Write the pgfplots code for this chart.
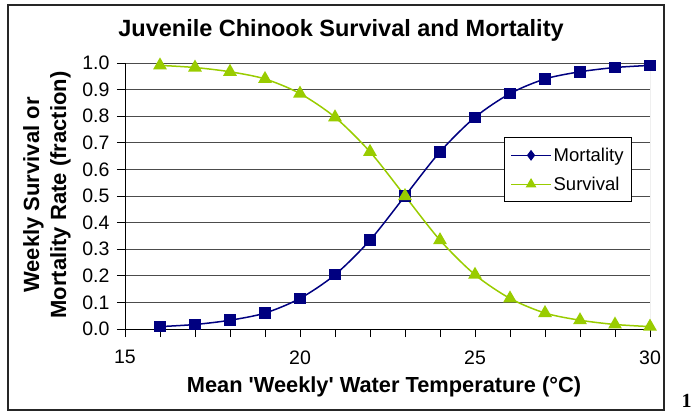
\documentclass[border=0pt]{standalone}
\usepackage{pgfplots}
\pgfplotsset{compat=1.18}
\usepackage{fontspec}
\setmainfont{Liberation Sans}
\newfontfamily\serifb{Liberation Serif}
\definecolor{mort}{RGB}{0,0,128}
\definecolor{surv}{RGB}{153,204,0}
\begin{document}
\begin{tikzpicture}
\path[use as bounding box] (0,0) rectangle (693pt,-415pt);
\draw[line width=1.2pt, black!85] (8pt,-5pt) rectangle (664pt,-410pt);
\begin{axis}[at={(125pt,-329pt)}, anchor=south west, scale only axis,
  width=525pt, height=266pt,
  xmin=15, xmax=30, ymin=0, ymax=1,
  axis x line*=bottom, axis y line*=left,
  axis line style={black, line width=1pt},
  xtick={15,20,25,30}, minor xtick={16,17,18,19,21,22,23,24,26,27,28,29},
  ytick={0,0.1,0.2,0.3,0.4,0.5,0.6,0.7,0.8,0.9,1.0},
  yticklabel style={xshift=-4pt, /pgf/number format/.cd, fixed, fixed zerofill, precision=1},
  xticklabel style={yshift=-10pt},
  /pgf/number format/assume math mode=true,
  tick align=outside, major tick length=8pt, minor tick length=8pt,
  tick style={black, line width=0.8pt},
  ymajorgrids, grid style={black!70, line width=0.7pt},
  tick label style={font=\fontsize{19.5}{19.5}\selectfont},
  legend style={at={(0.722,0.72)}, anchor=north west, draw=black, line width=0.8pt,
    font=\fontsize{18.5}{20}\selectfont, legend cell align=left,
    row sep=10pt, inner xsep=6pt, inner ysep=8pt},
  legend image code/.code={\draw[mark repeat=2,mark phase=2,#1] plot coordinates {(0pt,0pt)(20pt,0pt)(40pt,0pt)};},
]
\draw[gray, line width=0.8pt] (rel axis cs:1,0) -- (rel axis cs:1,1);
\addplot[mort, line width=1.5pt, smooth, mark=square*, mark size=5pt, mark options={solid}, forget plot]
 coordinates {(16,0.009)(17,0.017)(18,0.033)(19,0.060)(20,0.115)(21,0.204)(22,0.334)(23,0.500)(24,0.666)(25,0.796)(26,0.885)(27,0.940)(28,0.967)(29,0.983)(30,0.991)};
\addplot[surv, line width=1.5pt, smooth, mark=triangle*, mark size=6.5pt, mark options={solid}, forget plot]
 coordinates {(16,0.991)(17,0.983)(18,0.967)(19,0.940)(20,0.885)(21,0.796)(22,0.666)(23,0.500)(24,0.334)(25,0.204)(26,0.115)(27,0.060)(28,0.033)(29,0.017)(30,0.009)};
\addlegendimage{mort, line width=1.2pt, mark=diamond*, mark size=4.5pt}
\addlegendentry{Mortality}
\addlegendimage{surv, line width=1.2pt, mark=triangle*, mark size=5pt}
\addlegendentry{Survival}
\end{axis}
\node[font=\bfseries\fontsize{23.5}{26}\selectfont, anchor=base] at (341pt,-36pt) {Juvenile Chinook Survival and Mortality};
\node[font=\bfseries\fontsize{21.8}{24}\selectfont, anchor=base] at (384pt,-392pt) {Mean \textquotesingle Weekly\textquotesingle{} Water Temperature (°C)};
\node[rotate=90, align=center, font=\bfseries\fontsize{22}{27}\selectfont] at (47pt,-195pt) {Weekly Survival or\\Mortality Rate (fraction)};
\node[font=\serifb\bfseries\fontsize{20}{20}\selectfont, anchor=base] at (686.5pt,-407pt) {1};
\end{tikzpicture}
\end{document}
